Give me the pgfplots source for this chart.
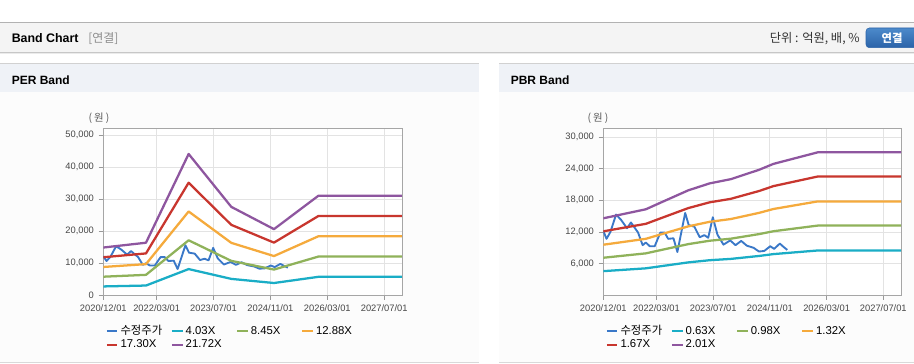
\documentclass[border=0pt]{standalone}
\usepackage{fontspec}
\setmainfont{Liberation Sans}
\newfontfamily\kr{Noto Sans CJK KR}
\usepackage{pgfplots}
\usepackage{pgfplotstable}
\pgfplotsset{compat=1.18}
\definecolor{cPrice}{HTML}{3A78C8}
\definecolor{cCyan}{HTML}{1AADC6}
\definecolor{cGreen}{HTML}{8FB25A}
\definecolor{cOrange}{HTML}{F5AA3C}
\definecolor{cRed}{HTML}{C8362E}
\definecolor{cPurple}{HTML}{8E569F}
\definecolor{hdrbg}{HTML}{F4F4F4}
\definecolor{panelbg}{HTML}{EFF2F7}
\definecolor{bodybg}{HTML}{FCFCFC}
\definecolor{btnTop}{HTML}{4C8ACB}
\definecolor{btnBot}{HTML}{2B63A8}

% price (months since 2020/12/01, won)
\pgfplotstableread{
m p
0 12200
0.9 10700
2 12000
3.6 15300
5 14300
6.7 12700
7.8 13800
9.8 11900
11.1 9500
12 10000
13.1 9300
14.5 9300
16.1 11900
17.3 11900
18.3 10700
19.8 10800
20.9 8200
23.1 15600
24.1 13300
25.7 13000
27.2 11000
28.5 11400
29.6 10900
30.9 14800
32.2 11500
33.9 9600
35.8 10400
37.3 9500
38.9 10300
40.5 9400
42.4 9000
43.9 8300
45.4 8400
47.1 9300
48.2 8800
49.8 9800
50.8 9200
51.9 8600
}\pricetab

\pgfplotsset{bandaxis/.style={
  scale only axis, width=224pt, height=125.25pt,
  xmin=0, xmax=84, ymin=0,
  xtick={0,15,31,47,63,79},
  xticklabels={2020/12/01,2022/03/01,2023/07/01,2024/11/01,2026/03/01,2027/07/01},
  tick pos=left, tick align=outside, major tick length=3.5pt,
  tick style={color=black!40, line width=0.6pt},
  grid=major, major grid style={color=black!11, line width=0.6pt},
  axis line style={color=black!35, line width=0.6pt},
  ticklabel style={font=\fontsize{7}{8}\selectfont, text=black!72},
  scaled y ticks=false,
  /pgf/number format/fixed,
  /pgf/number format/1000 sep={,},
  /pgf/number format/assume math mode=true,
  axis background/.style={fill=white},
  legend columns=4, legend cell align=left,
  legend style={at={(0,0)}, anchor=north west, xshift=1.6pt, yshift=-21.8pt,
    draw=none, fill=none, inner sep=0pt, font=\fontsize{8.5}{10}\selectfont,
    nodes={inner xsep=1.5pt, inner ysep=0.5pt, text height=7pt, text depth=2pt}},
  legend image code/.code={\draw[#1, line width=1.6pt] (0pt,0pt) -- (8pt,0pt);},
  every axis plot/.append style={line width=1.7pt, mark=none, line join=round},
}}
\newcommand{\lgbox}[1]{\makebox[36.3pt][l]{#1}}

\begin{document}
\begin{tikzpicture}[x=0.75pt,y=0.75pt]
\path[use as bounding box] (0,0) rectangle (914,364);
\fill[white] (0,0) rectangle (914,364);
% top header
\fill[hdrbg] (0,311.5) rectangle (914,341.5);
\draw[black!30, line width=0.75pt] (0,341.5) -- (914,341.5);
\fill[black!22] (0,310.5) rectangle (914,311.7);
\fill[black!8] (0,309.5) rectangle (914,310.5);
\node[anchor=west, inner sep=0pt, font=\fontsize{9.3}{11}\selectfont\bfseries] at (11.5,325.7) {Band Chart};
\node[anchor=west, inner sep=0pt, font=\fontsize{9}{11}\selectfont\kr, text=black!45] at (88,325.7) {[연결]};
\node[anchor=east, inner sep=0pt, font=\fontsize{9.2}{11}\selectfont\kr, text=black!80] at (860,325.2) {단위 : 억원, 배, \%};
\begin{scope}
\clip (0,0) rectangle (914,364);
\draw[rounded corners=2.5pt, top color=btnTop, bottom color=btnBot, draw=btnBot] (866,316.3) rectangle (925,336);
\end{scope}
\node[inner sep=0pt, font=\fontsize{8.5}{10}\selectfont\kr\bfseries, text=white] at (892,326) {연결};
% panels
\foreach \xa/\xb in {0/479, 499/914}{
  \fill[bodybg] (\xa,1.5) rectangle (\xb,271.5);
  \fill[panelbg] (\xa,271.5) rectangle (\xb,300);
  \draw[black!18, line width=0.75pt] (\xa,300) -- (\xb,300);
  \draw[black!15, line width=0.75pt] (\xa,1.5) -- (\xb,1.5);
}
\node[anchor=west, inner sep=0pt, font=\fontsize{9}{11}\selectfont\bfseries] at (11.5,283.5) {PER Band};
\node[anchor=west, inner sep=0pt, font=\fontsize{9}{11}\selectfont\bfseries] at (510.5,283.5) {PBR Band};
\node[inner sep=0pt, font=\fontsize{7.8}{9}\selectfont\kr, text=black!65] at (99,245.7) {(\hspace{1.5pt}원\hspace{1.5pt})};
\node[inner sep=0pt, font=\fontsize{7.8}{9}\selectfont\kr, text=black!65] at (598,245.7) {(\hspace{1.5pt}원\hspace{1.5pt})};

% PER band
\begin{axis}[bandaxis, at={(77.48pt,51.53pt)}, anchor=south west,
  ymax=52100, ytick={0,10000,20000,30000,40000,50000}]
\addplot[cPrice, line width=1.4pt] table[x=m,y=p] {\pricetab};
\addlegendentry{\lgbox{\kr 수정주가}}
\addplot[cCyan] coordinates {(0,2765) (12,3043) (24,8181) (36,5118) (48,3829) (60.5,5763) (84,5763)};
\addlegendentry{\lgbox{4.03X}}
\addplot[cGreen] coordinates {(0,5797) (12,6380) (24,17154) (36,10732) (48,8028) (60.5,12084) (84,12084)};
\addlegendentry{\lgbox{8.45X}}
\addplot[cOrange] coordinates {(0,8836) (12,9724) (24,26146) (36,16358) (48,12236) (60.5,18418) (84,18418)};
\addlegendentry{\lgbox{12.88X}}
\addplot[cRed] coordinates {(0,11868) (12,13062) (24,35119) (36,21971) (48,16435) (60.5,24739) (84,24739)};
\addlegendentry{\lgbox{17.30X}}
\addplot[cPurple] coordinates {(0,14900) (12,16399) (24,44092) (36,27584) (48,20634) (60.5,31060) (84,31060)};
\addlegendentry{\lgbox{21.72X}}
\end{axis}

% PBR band
\begin{axis}[bandaxis, at={(452.48pt,51.53pt)}, anchor=south west, width=223.3pt,
  ymax=31650, ytick={6000,12000,18000,24000,30000}]
\addplot[cPrice, line width=1.4pt] table[x=m,y=p] {\pricetab};
\addlegendentry{\lgbox{\kr 수정주가}}
\addplot[cCyan] coordinates {(0,4574) (12,5109) (17,5582) (24,6237) (30,6647) (36,6899) (44,7459) (48,7806) (60.5,8492) (84,8492)};
\addlegendentry{\lgbox{0.63X}}
\addplot[cGreen] coordinates {(0,7115) (12,7948) (17,8683) (24,9702) (30,10339) (36,10731) (44,11603) (48,12142) (60.5,13210) (84,13210)};
\addlegendentry{\lgbox{0.98X}}
\addplot[cOrange] coordinates {(0,9583) (12,10705) (17,11695) (24,13068) (30,13926) (36,14454) (44,15629) (48,16355) (60.5,17794) (84,17794)};
\addlegendentry{\lgbox{1.32X}}
\addplot[cRed] coordinates {(0,12124) (12,13544) (17,14796) (24,16533) (30,17619) (36,18287) (44,19773) (48,20691) (60.5,22512) (84,22512)};
\addlegendentry{\lgbox{1.67X}}
\addplot[cPurple] coordinates {(0,14593) (12,16301) (17,17809) (24,19899) (30,21206) (36,22010) (44,23798) (48,24904) (60.5,27095) (84,27095)};
\addlegendentry{\lgbox{2.01X}}
\end{axis}
\end{tikzpicture}
\end{document}
